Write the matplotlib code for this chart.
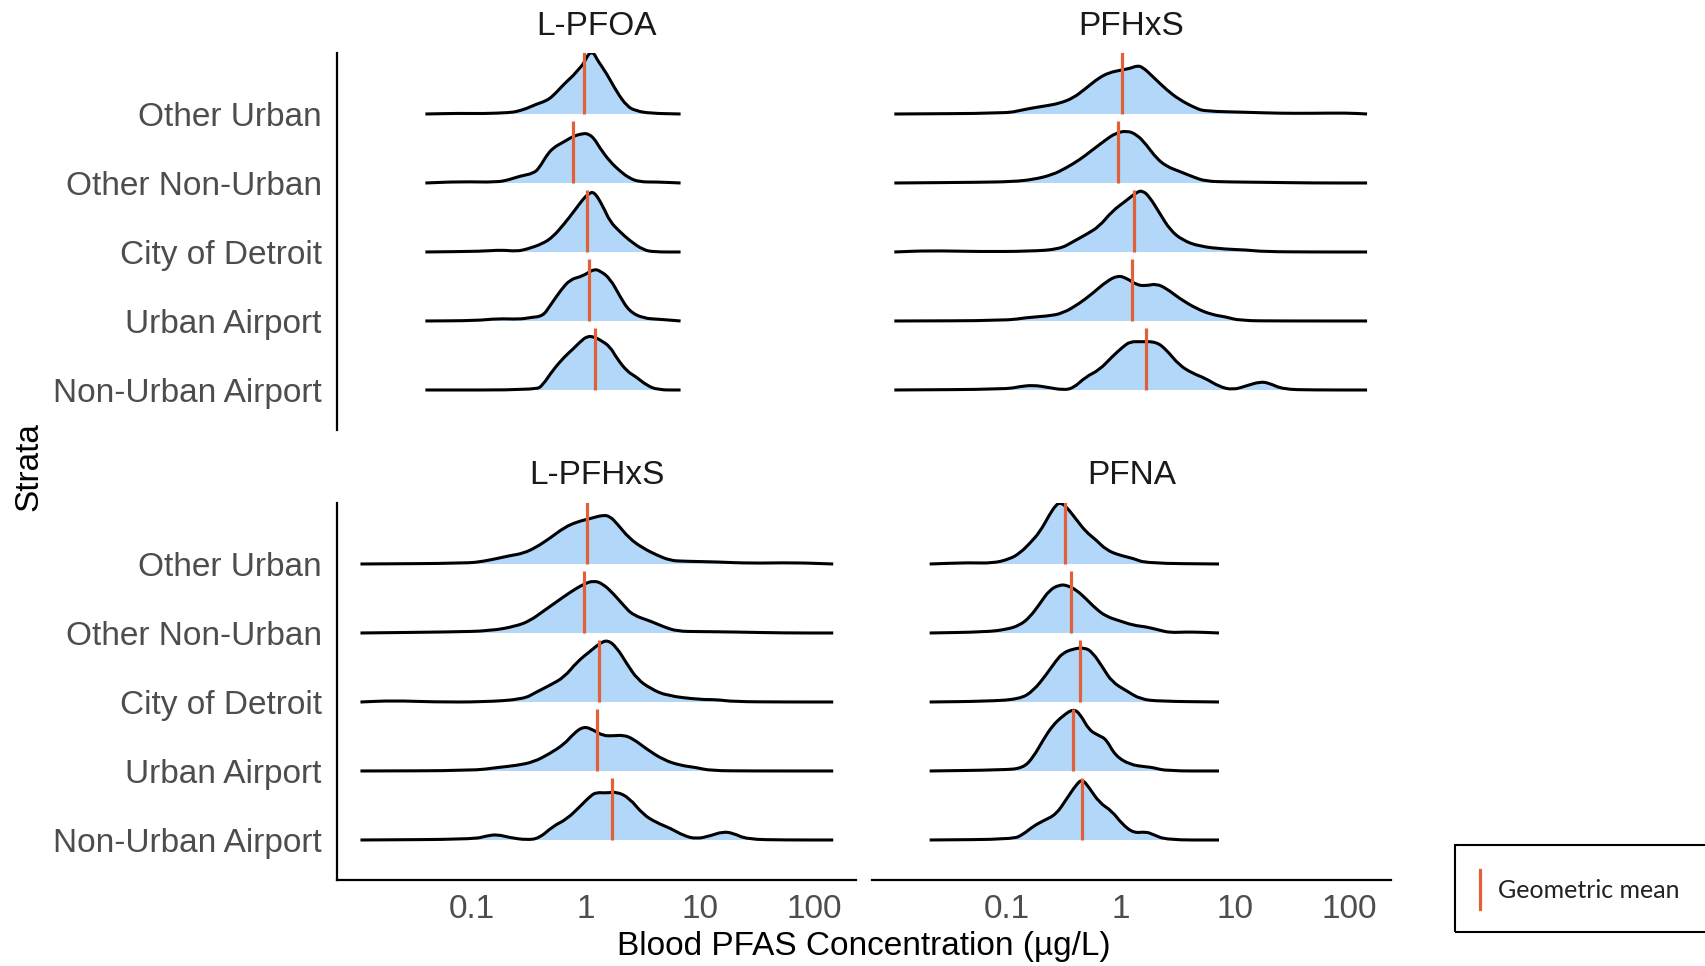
import numpy as np
import matplotlib.pyplot as plt
from matplotlib.patches import Rectangle, PathPatch
from matplotlib.lines import Line2D
from matplotlib.path import Path

plt.rcParams['font.family'] = ['Liberation Sans', 'DejaVu Sans']

# strata, top row first
strata = ["Other Urban", "Other Non-Urban", "City of Detroit", "Urban Airport", "Non-Urban Airport"]

# density outlines: x = log10(concentration, ug/L), h = scaled density
# L-PFOA
lpfoa_ou_x = [-1.41, -1.10, -0.90, -0.67, -0.61, -0.52, -0.44, -0.35, -0.29, -0.19, -0.11, -0.07, -0.02, 0.02, 0.05, 0.07, 0.10, 0.18, 0.27, 0.36, 0.44, 0.56, 0.83]
lpfoa_ou_h = [0, 0.01, 0.005, 0.02, 0.035, 0.08, 0.14, 0.19, 0.26, 0.44, 0.56, 0.64, 0.73, 0.87, 0.89, 0.88, 0.78, 0.59, 0.32, 0.11, 0.045, 0.01, 0]
lpfoa_onu_x = [-1.41, -1.10, -0.78, -0.67, -0.58, -0.46, -0.41, -0.35, -0.29, -0.19, -0.11, -0.02, 0.02, 0.07, 0.12, 0.21, 0.30, 0.38, 0.47, 0.62, 0.83]
lpfoa_onu_h = [0, 0.02, 0.01, 0.05, 0.10, 0.14, 0.22, 0.39, 0.51, 0.60, 0.68, 0.72, 0.71, 0.65, 0.51, 0.31, 0.17, 0.07, 0.015, 0.015, 0]
lpfoa_cod_x = [-1.41, -0.90, -0.75, -0.61, -0.52, -0.38, -0.29, -0.19, -0.11, -0.02, 0.02, 0.07, 0.15, 0.21, 0.30, 0.38, 0.50, 0.60, 0.83]
lpfoa_cod_h = [0, 0.01, 0.03, 0.01, 0.04, 0.12, 0.22, 0.41, 0.58, 0.78, 0.84, 0.88, 0.66, 0.44, 0.29, 0.17, 0.03, 0, 0]
lpfoa_ua_x = [-1.41, -0.96, -0.78, -0.58, -0.49, -0.38, -0.32, -0.22, -0.14, -0.05, 0.01, 0.07, 0.12, 0.21, 0.30, 0.38, 0.50, 0.64, 0.83]
lpfoa_ua_h = [0, 0.005, 0.035, 0.025, 0.05, 0.07, 0.21, 0.45, 0.60, 0.64, 0.69, 0.75, 0.73, 0.62, 0.35, 0.14, 0.04, 0.025, 0]
lpfoa_nua_x = [-1.41, -0.44, -0.38, -0.29, -0.19, -0.11, -0.05, 0.01, 0.07, 0.13, 0.21, 0.27, 0.36, 0.44, 0.53, 0.63, 0.83]
lpfoa_nua_h = [0, 0, 0.07, 0.29, 0.48, 0.60, 0.70, 0.78, 0.77, 0.72, 0.63, 0.46, 0.27, 0.19, 0.07, 0, 0]
lpfoa_gm = [-0.02, -0.11, 0.01, 0.03, 0.08]

# PFHxS
pfhxs_ou_x = [-1.99, -1.01, -0.89, -0.77, -0.65, -0.54, -0.42, -0.31, -0.19, -0.10, -0.02, 0.08, 0.14, 0.19, 0.28, 0.40, 0.51, 0.66, 0.74, 1.10, 1.39, 1.68, 1.98, 2.16]
pfhxs_ou_h = [0, 0.01, 0.05, 0.09, 0.12, 0.155, 0.23, 0.37, 0.53, 0.60, 0.63, 0.66, 0.70, 0.68, 0.54, 0.35, 0.21, 0.08, 0.04, 0.025, 0.01, 0.01, 0.015, 0]
pfhxs_onu_x = [-1.99, -1.24, -0.95, -0.77, -0.60, -0.48, -0.36, -0.25, -0.13, -0.05, 0.05, 0.14, 0.22, 0.31, 0.40, 0.51, 0.63, 0.74, 0.95, 1.25, 1.68, 2.16]
pfhxs_onu_h = [0, 0.01, 0.02, 0.05, 0.12, 0.22, 0.34, 0.48, 0.63, 0.72, 0.76, 0.70, 0.56, 0.36, 0.24, 0.17, 0.09, 0.025, 0.015, 0.01, 0, 0]
pfhxs_cod_x = [-1.99, -1.68, -1.24, -0.80, -0.54, -0.42, -0.31, -0.19, -0.08, 0.05, 0.14, 0.19, 0.25, 0.34, 0.43, 0.54, 0.69, 0.92, 1.10, 1.25, 1.68, 2.16]
pfhxs_cod_h = [0, 0.02, 0.005, 0.01, 0.04, 0.15, 0.25, 0.37, 0.59, 0.75, 0.87, 0.89, 0.80, 0.56, 0.32, 0.17, 0.08, 0.04, 0.03, 0.005, 0, 0]
pfhxs_ua_x = [-1.99, -1.01, -0.83, -0.65, -0.51, -0.36, -0.25, -0.13, -0.03, 0.05, 0.14, 0.22, 0.31, 0.40, 0.51, 0.66, 0.80, 0.92, 1.04, 1.39, 2.16]
pfhxs_ua_h = [0, 0.005, 0.05, 0.07, 0.11, 0.26, 0.40, 0.57, 0.66, 0.62, 0.52, 0.51, 0.54, 0.47, 0.33, 0.18, 0.09, 0.06, 0.005, 0, 0]
pfhxs_nua_x = [-1.99, -1.01, -0.89, -0.77, -0.65, -0.51, -0.42, -0.31, -0.19, -0.08, 0.02, 0.08, 0.17, 0.31, 0.40, 0.51, 0.63, 0.74, 0.86, 0.98, 1.10, 1.22, 1.30, 1.42, 1.68, 2.16]
pfhxs_nua_h = [0, 0.01, 0.05, 0.07, 0.04, 0, 0.025, 0.19, 0.29, 0.48, 0.63, 0.70, 0.70, 0.70, 0.58, 0.36, 0.24, 0.17, 0.05, 0, 0.06, 0.12, 0.10, 0.01, 0, 0]
pfhxs_gm = [0.01, -0.03, 0.11, 0.10, 0.22]

# L-PFHxS
lpfhxs_ou_x = [-1.98, -1.04, -0.90, -0.78, -0.67, -0.55, -0.44, -0.32, -0.19, -0.08, 0.04, 0.15, 0.21, 0.27, 0.38, 0.50, 0.62, 0.74, 0.86, 1.15, 1.44, 1.82, 2.17]
lpfhxs_ou_h = [0, 0.01, 0.04, 0.08, 0.12, 0.155, 0.24, 0.37, 0.53, 0.61, 0.66, 0.71, 0.69, 0.59, 0.37, 0.23, 0.13, 0.05, 0.04, 0.03, 0.01, 0.02, 0]
lpfhxs_onu_x = [-1.98, -1.19, -0.84, -0.61, -0.49, -0.38, -0.26, -0.14, -0.02, 0.07, 0.15, 0.24, 0.33, 0.41, 0.57, 0.68, 0.80, 1.00, 1.29, 1.74, 2.17]
lpfhxs_onu_h = [0, 0.015, 0.03, 0.10, 0.18, 0.31, 0.45, 0.59, 0.71, 0.76, 0.71, 0.57, 0.40, 0.26, 0.17, 0.09, 0.025, 0.02, 0.015, 0, 0]
lpfhxs_cod_x = [-1.98, -1.69, -1.34, -0.90, -0.55, -0.44, -0.32, -0.19, -0.08, 0.04, 0.12, 0.19, 0.27, 0.36, 0.45, 0.57, 0.71, 1.00, 1.15, 1.29, 1.74, 2.17]
lpfhxs_cod_h = [0, 0.02, 0, 0, 0.04, 0.14, 0.24, 0.36, 0.58, 0.74, 0.85, 0.90, 0.79, 0.55, 0.33, 0.19, 0.09, 0.035, 0.035, 0.005, 0, 0]
lpfhxs_ua_x = [-1.98, -0.99, -0.78, -0.61, -0.46, -0.32, -0.19, -0.11, -0.02, 0.07, 0.15, 0.24, 0.33, 0.41, 0.53, 0.68, 0.83, 0.97, 1.09, 1.44, 2.17]
lpfhxs_ua_h = [0, 0.005, 0.05, 0.08, 0.13, 0.25, 0.39, 0.54, 0.65, 0.59, 0.51, 0.51, 0.52, 0.47, 0.32, 0.16, 0.08, 0.05, 0.005, 0, 0]
lpfhxs_nua_x = [-1.98, -0.99, -0.87, -0.78, -0.67, -0.52, -0.41, -0.29, -0.17, -0.05, 0.04, 0.09, 0.18, 0.27, 0.38, 0.50, 0.62, 0.74, 0.86, 0.97, 1.09, 1.20, 1.29, 1.41, 1.74, 2.17]
lpfhxs_nua_h = [0, 0.01, 0.06, 0.08, 0.035, 0, 0.025, 0.20, 0.30, 0.49, 0.64, 0.69, 0.68, 0.70, 0.61, 0.37, 0.25, 0.17, 0.06, 0.015, 0.06, 0.12, 0.10, 0.01, 0, 0]
lpfhxs_gm = [0.01, -0.02, 0.11, 0.10, 0.23]

# PFNA
pfna_ou_x = [-1.68, -1.33, -1.13, -0.98, -0.89, -0.80, -0.71, -0.63, -0.57, -0.53, -0.48, -0.39, -0.31, -0.22, -0.13, -0.02, 0.11, 0.22, 0.86]
pfna_ou_h = [0, 0.02, 0.01, 0.07, 0.155, 0.30, 0.47, 0.71, 0.86, 0.89, 0.83, 0.64, 0.47, 0.35, 0.205, 0.13, 0.08, 0.01, 0]
pfna_onu_x = [-1.68, -1.19, -1.01, -0.89, -0.80, -0.71, -0.63, -0.54, -0.47, -0.39, -0.31, -0.22, -0.13, -0.02, 0.11, 0.22, 0.34, 0.43, 0.57, 0.72, 0.86]
pfna_onu_h = [0, 0.015, 0.05, 0.11, 0.23, 0.43, 0.62, 0.70, 0.69, 0.62, 0.50, 0.35, 0.24, 0.18, 0.11, 0.09, 0.04, 0.005, 0.015, 0.01, 0]
pfna_cod_x = [-1.68, -1.19, -0.89, -0.77, -0.65, -0.57, -0.51, -0.42, -0.32, -0.25, -0.16, -0.08, 0.05, 0.17, 0.34, 0.86]
pfna_cod_h = [0, 0.01, 0.04, 0.16, 0.41, 0.60, 0.71, 0.77, 0.79, 0.72, 0.50, 0.29, 0.16, 0.04, 0.01, 0]
pfna_ua_x = [-1.68, -1.04, -0.86, -0.77, -0.68, -0.60, -0.51, -0.42, -0.36, -0.28, -0.19, -0.13, -0.05, 0.08, 0.22, 0.28, 0.40, 0.86]
pfna_ua_h = [0, 0.015, 0.04, 0.20, 0.46, 0.66, 0.80, 0.90, 0.83, 0.59, 0.51, 0.46, 0.22, 0.09, 0.06, 0.05, 0, 0]
pfna_nua_x = [-1.68, -0.95, -0.86, -0.77, -0.68, -0.57, -0.48, -0.39, -0.34, -0.28, -0.19, -0.08, 0.01, 0.11, 0.22, 0.28, 0.40, 0.86]
pfna_nua_h = [0, 0.01, 0.08, 0.20, 0.28, 0.37, 0.59, 0.81, 0.88, 0.76, 0.54, 0.42, 0.23, 0.10, 0.12, 0.08, 0, 0]
pfna_gm = [-0.49, -0.44, -0.36, -0.42, -0.34]

xticks = [0.1, 1, 10, 100]
xtick_labels = ["0.1", "1", "10", "100"]

panels = [
    ("L-PFOA", [(lpfoa_ou_x, lpfoa_ou_h), (lpfoa_onu_x, lpfoa_onu_h), (lpfoa_cod_x, lpfoa_cod_h),
                (lpfoa_ua_x, lpfoa_ua_h), (lpfoa_nua_x, lpfoa_nua_h)], lpfoa_gm),
    ("PFHxS", [(pfhxs_ou_x, pfhxs_ou_h), (pfhxs_onu_x, pfhxs_onu_h), (pfhxs_cod_x, pfhxs_cod_h),
               (pfhxs_ua_x, pfhxs_ua_h), (pfhxs_nua_x, pfhxs_nua_h)], pfhxs_gm),
    ("L-PFHxS", [(lpfhxs_ou_x, lpfhxs_ou_h), (lpfhxs_onu_x, lpfhxs_onu_h), (lpfhxs_cod_x, lpfhxs_cod_h),
                 (lpfhxs_ua_x, lpfhxs_ua_h), (lpfhxs_nua_x, lpfhxs_nua_h)], lpfhxs_gm),
    ("PFNA", [(pfna_ou_x, pfna_ou_h), (pfna_onu_x, pfna_onu_h), (pfna_cod_x, pfna_cod_h),
              (pfna_ua_x, pfna_ua_h), (pfna_nua_x, pfna_nua_h)], pfna_gm),
]

fill_col = "#b3d7f9"
gm_col = "#e0603a"
tick_col = "#4d4d4d"


def ridge_path(lx, top, base=None):
    # quadratic bezier through midpoints, so the outline is drawn round instead of jagged
    pts = np.column_stack([lx, top])
    mids = (pts[:-1] + pts[1:]) / 2
    verts = [pts[0], mids[0]]
    codes = [Path.MOVETO, Path.LINETO]
    for i in range(1, len(pts) - 1):
        verts += [pts[i], mids[i]]
        codes += [Path.CURVE3, Path.CURVE3]
    verts.append(pts[-1])
    codes.append(Path.LINETO)
    if base is not None:
        verts += [(lx[-1], base), (lx[0], base), (lx[0], base)]
        codes += [Path.LINETO, Path.LINETO, Path.CLOSEPOLY]
    verts = np.array(verts, dtype=float)
    verts[:, 0] = 10 ** verts[:, 0]
    return Path(verts, codes)


fig = plt.figure(figsize=(17.06, 9.66), dpi=100)
W, H = 1706, 966
col_left = [337 / W, 872 / W]
row_bottom = [(H - 430) / H, (H - 880) / H]
pw, ph = 519 / W, 377 / H
log_lim = (-2.186, 2.37)

positions = np.arange(len(strata), 0, -1)  # Other Urban at top

for k, (name, curves, gm) in enumerate(panels):
    r, c = divmod(k, 2)
    ax = fig.add_axes([col_left[c], row_bottom[r], pw, ph])
    ax.set_xscale("log")
    for i, ((lx, h), g) in enumerate(zip(curves, gm)):
        base = positions[i]
        top = base + np.array(h)
        z = 2 + i * 3
        ax.add_patch(PathPatch(ridge_path(lx, top, base), facecolor=fill_col, edgecolor="none", zorder=z))
        ax.add_patch(PathPatch(ridge_path(lx, top), fill=False, edgecolor="black", lw=2.2,
                               joinstyle="round", capstyle="butt", zorder=z + 1))
        ax.vlines(10 ** g, base, base + 0.9, color=gm_col, lw=2.3, zorder=z + 2)
    ax.set_xlim(10 ** log_lim[0], 10 ** log_lim[1])
    ax.set_ylim(0.42, 5.884)
    ax.set_xticks(xticks)
    ax.minorticks_off()
    ax.tick_params(length=0, labelsize=24, labelcolor=tick_col)
    ax.tick_params(axis="x", pad=10)
    ax.tick_params(axis="y", pad=11)
    if r == 1:
        ax.set_xticklabels(xtick_labels)
    else:
        ax.set_xticklabels([])
    ax.set_yticks(positions)
    if c == 0:
        ax.set_yticklabels(strata)
    else:
        ax.set_yticklabels([])
    for s in ["top", "right"]:
        ax.spines[s].set_visible(False)
    ax.spines["left"].set_visible(c == 0)
    ax.spines["bottom"].set_visible(r == 1)
    for s in ["left", "bottom"]:
        ax.spines[s].set_linewidth(1.6)
    ax.set_facecolor("none")
    ax.text(0.5, 1 + 27 / 377, name, transform=ax.transAxes, ha="center", va="center",
            fontsize=24, color="#1a1a1a")

fig.text(864 / W, 1 - 947 / H, "Blood PFAS Concentration (\u00b5g/L)", ha="center", va="center",
         fontsize=24, color="black")
fig.text(29 / W, 1 - 467 / H, "Strata", rotation=90, ha="center", va="center",
         fontsize=24, color="black")

# legend box
fig.patches.append(Rectangle((1455 / W, 1 - 932 / H), 0.2, 87 / H, transform=fig.transFigure,
                             fill=False, edgecolor="black", lw=1.5, clip_on=False))
fig.lines.append(Line2D([1480 / W, 1480 / W], [1 - 909 / H, 1 - 870 / H], transform=fig.transFigure,
                        color=gm_col, lw=2.3))
fig.text(1498 / W, 1 - 890 / H, "Geometric mean", ha="left", va="center", fontsize=18,
         family=["Lato", "DejaVu Sans"], color="#222222")

fig.savefig("out.png", dpi=100)
